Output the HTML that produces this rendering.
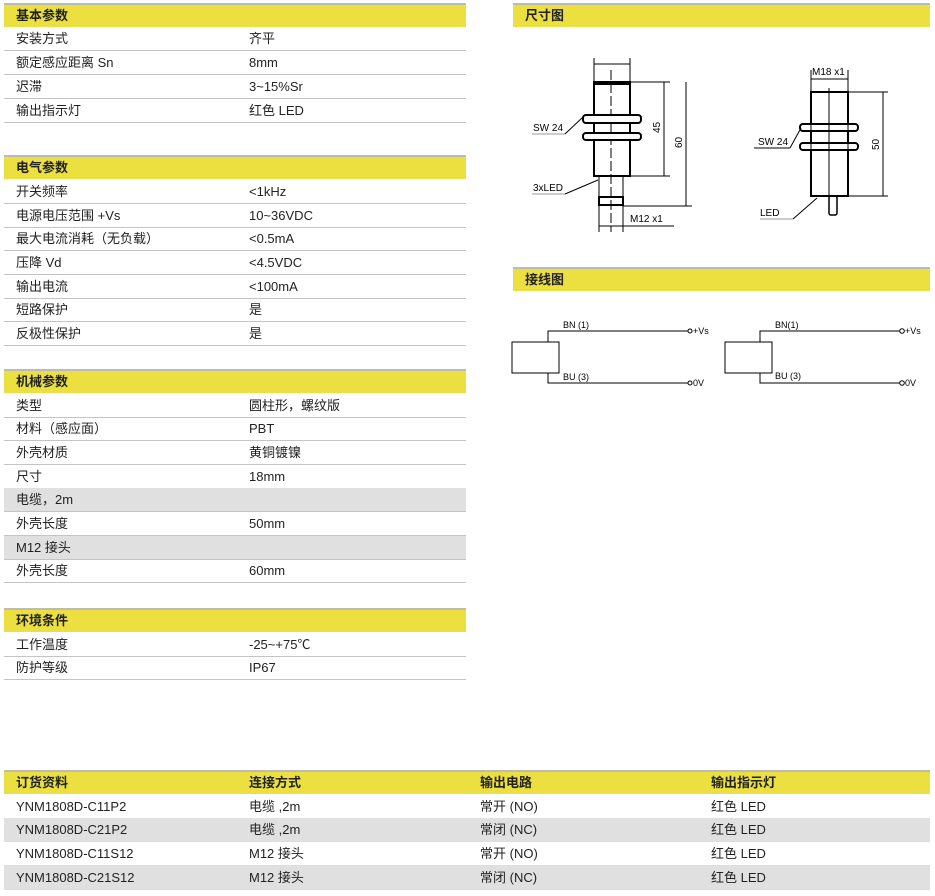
<!DOCTYPE html>
<html><head><meta charset="utf-8"><style>
body{margin:0;width:935px;height:896px;background:#fff;position:relative;font-family:"Liberation Sans","Noto Sans CJK SC",sans-serif;font-size:13px;color:#222;overflow:hidden}
.h{position:absolute;background:#ebe040;border-top:2px solid #bbb;font-weight:bold;line-height:22px;box-sizing:border-box;height:24px;padding-left:12px}
.r{position:absolute;left:4px;width:462px;border-bottom:1px solid #c4c4c4;box-sizing:border-box;height:23.6px;line-height:23px}
.r span{position:absolute;left:12px}.r b{position:absolute;left:245px;font-weight:normal}
.g{background:#e0e0e0}
.o{position:absolute;left:4px;width:926px;height:23.7px;line-height:23px;box-sizing:border-box;border-bottom:1px solid #ddd}
.o span{position:absolute}
</style></head><body>
<div class="h" style="left:4px;top:3px;width:462px">基本参数</div>
<div class="r" style="top:27px"><span>安装方式</span><b>齐平</b></div>
<div class="r" style="top:51px"><span>额定感应距离 Sn</span><b>8mm</b></div>
<div class="r" style="top:75px"><span>迟滞</span><b>3~15%Sr</b></div>
<div class="r" style="top:99px"><span>输出指示灯</span><b>红色 LED</b></div>

<div class="h" style="left:4px;top:155px;width:462px">电气参数</div>
<div class="r" style="top:180px"><span>开关频率</span><b>&lt;1kHz</b></div>
<div class="r" style="top:204px"><span>电源电压范围 +Vs</span><b>10~36VDC</b></div>
<div class="r" style="top:227px"><span>最大电流消耗（无负载）</span><b>&lt;0.5mA</b></div>
<div class="r" style="top:251px"><span>压降 Vd</span><b>&lt;4.5VDC</b></div>
<div class="r" style="top:275px"><span>输出电流</span><b>&lt;100mA</b></div>
<div class="r" style="top:298px"><span>短路保护</span><b>是</b></div>
<div class="r" style="top:322px"><span>反极性保护</span><b>是</b></div>

<div class="h" style="left:4px;top:369px;width:462px">机械参数</div>
<div class="r" style="top:394px"><span>类型</span><b>圆柱形，螺纹版</b></div>
<div class="r" style="top:417px"><span>材料（感应面）</span><b>PBT</b></div>
<div class="r" style="top:441px"><span>外壳材质</span><b>黄铜镀镍</b></div>
<div class="r" style="top:465px"><span>尺寸</span><b>18mm</b></div>
<div class="r g" style="top:488px"><span>电缆，2m</span></div>
<div class="r" style="top:512px"><span>外壳长度</span><b>50mm</b></div>
<div class="r g" style="top:536px"><span>M12 接头</span></div>
<div class="r" style="top:559px"><span>外壳长度</span><b>60mm</b></div>

<div class="h" style="left:4px;top:608px;width:462px">环境条件</div>
<div class="r" style="top:633px"><span>工作温度</span><b>-25~+75℃</b></div>
<div class="r" style="top:656px"><span>防护等级</span><b>IP67</b></div>

<div class="h" style="left:513px;top:3px;width:417px">尺寸图</div>
<div class="h" style="left:513px;top:267px;width:417px">接线图</div>

<div class="h" style="left:4px;top:770px;width:926px;padding-left:0"><span style="position:absolute;left:12px">订货资料</span><span style="position:absolute;left:245px">连接方式</span><span style="position:absolute;left:476px">输出电路</span><span style="position:absolute;left:707px">输出指示灯</span></div>
<div class="o" style="top:795px"><span style="left:12px">YNM1808D-C11P2</span><span style="left:245px">电缆 ,2m</span><span style="left:476px">常开 (NO)</span><span style="left:707px">红色 LED</span></div>
<div class="o g" style="top:818px"><span style="left:12px">YNM1808D-C21P2</span><span style="left:245px">电缆 ,2m</span><span style="left:476px">常闭 (NC)</span><span style="left:707px">红色 LED</span></div>
<div class="o" style="top:842px"><span style="left:12px">YNM1808D-C11S12</span><span style="left:245px">M12 接头</span><span style="left:476px">常开 (NO)</span><span style="left:707px">红色 LED</span></div>
<div class="o g" style="top:866px"><span style="left:12px">YNM1808D-C21S12</span><span style="left:245px">M12 接头</span><span style="left:476px">常闭 (NC)</span><span style="left:707px">红色 LED</span></div>

<svg width="935" height="896" style="position:absolute;left:0;top:0" font-family="Liberation Sans, sans-serif" font-size="10">
<g stroke="#000" fill="none" stroke-width="1">
<line x1="594" y1="58" x2="594" y2="82"/><line x1="630" y1="58" x2="630" y2="82"/>
<line x1="594" y1="64" x2="630" y2="64"/>
<rect x="594" y="82" width="36" height="94" stroke-width="2"/>
<line x1="594" y1="84" x2="630" y2="84" stroke-width="2"/>
<line x1="611" y1="70" x2="611" y2="232" stroke-dasharray="10,3"/>
<rect x="583" y="115" width="58" height="8" rx="3" stroke-width="2" fill="#fff"/>
<rect x="583" y="133" width="58" height="7" rx="3" stroke-width="2" fill="#fff"/>
<line x1="599" y1="176" x2="599" y2="232"/><line x1="623" y1="176" x2="623" y2="232"/>
<rect x="599" y="197" width="24" height="8" stroke-width="2"/>
<line x1="630" y1="82" x2="670" y2="82"/><line x1="630" y1="176" x2="670" y2="176"/>
<line x1="664" y1="82" x2="664" y2="176"/>
<line x1="686" y1="82" x2="686" y2="206"/>
<line x1="623" y1="206" x2="692" y2="206"/>
<line x1="599" y1="226" x2="674" y2="226"/>
<line x1="532" y1="134" x2="565" y2="134" stroke="#999"/><line x1="565" y1="134" x2="583" y2="117"/>
<line x1="532" y1="194" x2="565" y2="194" stroke="#999"/><line x1="565" y1="194" x2="598" y2="180"/>
<line x1="811" y1="70" x2="811" y2="92"/><line x1="848" y1="70" x2="848" y2="92"/>
<line x1="811" y1="79" x2="848" y2="79"/>
<rect x="811" y="92" width="37" height="104" stroke-width="2"/>
<line x1="829" y1="88" x2="829" y2="196"/>
<rect x="800" y="124" width="58" height="7" rx="3" stroke-width="2" fill="#fff"/>
<rect x="800" y="143" width="58" height="7" rx="3" stroke-width="2" fill="#fff"/>
<line x1="811" y1="124" x2="811" y2="150"/><line x1="829" y1="124" x2="829" y2="150"/><line x1="848" y1="124" x2="848" y2="150"/>
<rect x="829" y="196" width="8" height="19" rx="2" stroke-width="1.5"/>
<line x1="848" y1="92" x2="888" y2="92"/><line x1="848" y1="196" x2="888" y2="196"/>
<line x1="883" y1="92" x2="883" y2="196"/>
<line x1="754" y1="148" x2="790" y2="148"/><line x1="790" y1="148" x2="801" y2="128"/>
<line x1="760" y1="219" x2="793" y2="219" stroke="#999"/><line x1="793" y1="219" x2="817" y2="198"/>
<rect x="512" y="342" width="47" height="31"/>
<polyline points="548,342 548,331 688,331"/><polyline points="548,373 548,383 688,383"/>
<circle cx="690" cy="331" r="2"/><circle cx="690" cy="383" r="2"/>
<rect x="725" y="342" width="47" height="31"/>
<polyline points="760,342 760,331 900,331"/><polyline points="760,373 760,383 900,383"/>
<circle cx="902" cy="331" r="2.3"/><circle cx="902" cy="383" r="2.3"/>
</g>
<text x="533" y="131">SW 24</text><text x="533" y="191">3xLED</text>
<text x="630" y="222">M12 x1</text>
<text x="660" y="133" transform="rotate(-90 660 133)">45</text>
<text x="682" y="148" transform="rotate(-90 682 148)">60</text>
<text x="812" y="75">M18 x1</text>
<text x="758" y="145">SW 24</text><text x="760" y="216">LED</text>
<text x="879" y="150" transform="rotate(-90 879 150)">50</text>
<g font-size="9"><text x="563" y="328">BN (1)</text><text x="563" y="380">BU (3)</text>
<text x="693" y="334">+Vs</text><text x="693" y="386">0V</text>
<text x="775" y="328">BN(1)</text><text x="775" y="379">BU (3)</text>
<text x="905" y="334">+Vs</text><text x="905" y="386">0V</text></g>
</svg>
</body></html>
